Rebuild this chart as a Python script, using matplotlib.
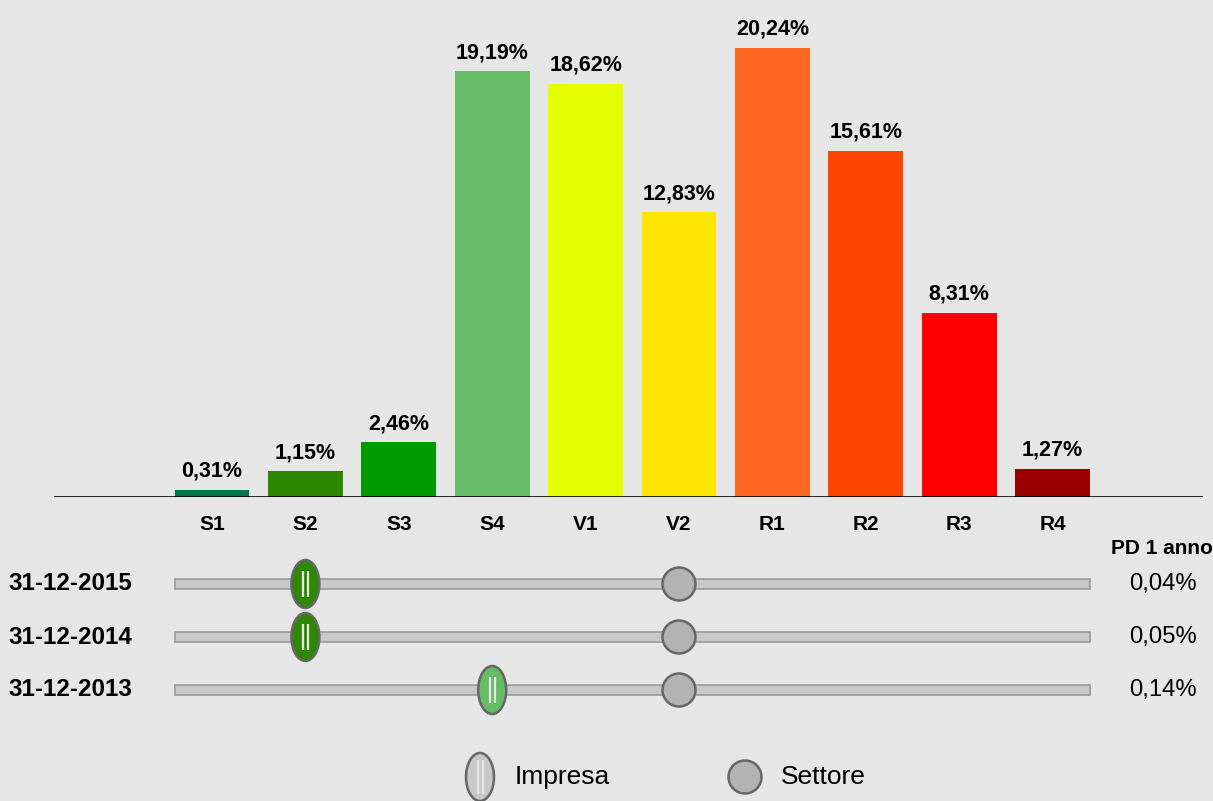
import matplotlib
matplotlib.use("Agg")
import matplotlib.pyplot as plt
import numpy as np
from matplotlib.patches import Ellipse, Rectangle
from matplotlib.transforms import blended_transform_factory

plt.rcParams['font.family'] = ['Liberation Sans', 'DejaVu Sans']

# data
classes = ['S1', 'S2', 'S3', 'S4', 'V1', 'V2', 'R1', 'R2', 'R3', 'R4']
share = [0.31, 1.15, 2.46, 19.19, 18.62, 12.83, 20.24, 15.61, 8.31, 1.27]
bar_colors = ['#00774a', '#2e8700', '#009900', '#66bb66', '#e6ff00',
              '#ffe500', '#ff6622', '#ff4500', '#ff0000', '#990000']
dates = ['31-12-2015', '31-12-2014', '31-12-2013']
impresa_class = ['S2', 'S2', 'S4']
settore_class = ['V2', 'V2', 'V2']
pd_1anno = ['0,04%', '0,05%', '0,14%']

bg = '#e6e6e6'
W, H = 1213, 801
fig = plt.figure(figsize=(W / 100, H / 100), dpi=100, facecolor=bg)

# x mapping: category i at pixel 212 + 93.4*i
x0, dx = 212, 93.4
xlim = ((0 - x0) / dx, (W - x0) / dx)
x = np.arange(len(classes))

# bar axes
base_px = 497
ax = fig.add_axes([0, (H - base_px) / H, 1, base_px / H])
ax.set_facecolor(bg)
ax.set_xlim(*xlim)
ax.set_ylim(0, base_px / 22.18)
ax.bar(x, share, width=0.8, color=bar_colors)
for xi, v in zip(x, share):
    ax.annotate(f'{v:.2f}%'.replace('.', ','), (xi, v), xytext=(0, 6),
                textcoords='offset points', ha='center', va='bottom',
                fontsize=15.5, fontweight='bold')
ax.axhline(0, xmin=55 / W, xmax=1202 / W, color='black', lw=1.2)
for s in ax.spines.values():
    s.set_visible(False)
ax.set_yticks([])
ax.set_xticks(x)
ax.set_xticklabels(classes, fontsize=15, fontweight='bold')
ax.tick_params(axis='x', length=0, pad=13)

# slider axes
row_px = 53
ax2 = fig.add_axes([0, 0, 1, (H - base_px) / H])
ax2.set_facecolor('none')
ax2.set_xlim(*xlim)
ax2.set_ylim((H - 584) / row_px, -(584 - base_px) / row_px)
ax2.axis('off')


def grip(cx, cy, half):
    for off in (-2.5, 2.5):
        ax2.plot([cx + off / dx] * 2, [cy - half / row_px, cy + half / row_px],
                 color='#e6e6e6', lw=1.6, zorder=5, clip_on=False,
                 solid_capstyle='butt')


trf = blended_transform_factory(fig.transFigure, ax2.transData)
for r, d in enumerate(dates):
    ax2.add_patch(Rectangle((-0.4, r - 0.1), 9.8, 0.2, facecolor='#c8c8c8',
                            edgecolor='#9a9a9a', lw=1.2, zorder=1))
    ax2.text(8 / W, r, d, transform=trf, ha='left', va='center',
             fontsize=17.4, fontweight='bold')
    ax2.text(1163 / W, r, pd_1anno[r], transform=trf, ha='center',
             va='center', fontsize=17.2)
    si = classes.index(settore_class[r])
    ax2.add_patch(Ellipse((si, r), 33 / dx, 33 / row_px, facecolor='#b3b3b3',
                          edgecolor='#666666', lw=1.8, zorder=3))
    ii = classes.index(impresa_class[r])
    ax2.add_patch(Ellipse((ii, r), 28 / dx, 48 / row_px,
                          facecolor=bar_colors[ii], edgecolor='#666666',
                          lw=1.8, zorder=4))
    grip(ii, r, 13)
ax2.text(1162 / W, (548 - 584) / row_px, 'PD 1 anno', transform=trf,
         ha='center', va='center', fontsize=15, fontweight='bold')

# legend
ly = (777 - 584) / row_px
lx_imp = (480 - x0) / dx
lx_set = (745 - x0) / dx
ax2.add_patch(Ellipse((lx_imp, ly), 28 / dx, 48 / row_px, facecolor='#c8c8c8',
                      edgecolor='#666666', lw=1.8, zorder=4, clip_on=False))
grip(lx_imp, ly, 17)
ax2.add_patch(Ellipse((lx_set, ly), 33 / dx, 33 / row_px, facecolor='#b3b3b3',
                      edgecolor='#666666', lw=1.8, zorder=3))
ax2.text((515 - x0) / dx, ly, 'Impresa', ha='left', va='center', fontsize=19)
ax2.text((781 - x0) / dx, ly, 'Settore', ha='left', va='center', fontsize=19)

fig.savefig('out.png', dpi=100, facecolor=bg)
